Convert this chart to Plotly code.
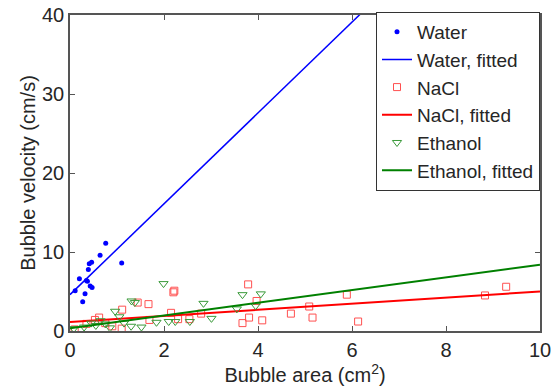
import plotly.graph_objects as go

# ---- data ----
water_x = [0.11, 0.20, 0.27, 0.32, 0.35, 0.37, 0.39, 0.41, 0.46, 0.43, 0.47, 0.64, 0.76, 1.10]
water_y = [5.1, 6.6, 3.7, 4.7, 6.4, 6.3, 7.8, 8.5, 8.7, 5.7, 5.5, 9.6, 11.1, 8.6]

nacl_x = [0.10, 0.35, 0.53, 0.62, 0.75, 0.90, 1.10, 1.11, 1.44, 1.67, 1.69, 2.15, 2.20, 2.22,
          2.30, 2.54, 2.79, 3.67, 3.79, 3.81, 3.97, 4.09, 4.70, 5.09, 5.16, 5.89, 6.13, 8.83, 9.28]
nacl_y = [0.2, 0.9, 1.4, 1.7, 1.0, 0.6, 0.3, 2.7, 3.6, 3.4, 1.4, 2.3, 4.9, 5.1,
          1.5, 1.5, 2.2, 1.0, 5.9, 1.7, 3.8, 1.35, 2.2, 3.1, 1.7, 4.6, 1.2, 4.5, 5.6]

ethanol_x = [0.08, 0.30, 0.45, 0.55, 0.65, 0.75, 0.85, 0.96, 1.05, 1.15, 1.30, 1.31, 1.38, 1.52,
             1.84, 1.99, 2.10, 2.24, 2.55, 2.84, 3.01, 3.55, 3.67, 3.95, 4.06]
ethanol_y = [0.3, 0.5, 1.0, 0.7, 1.3, 0.9, 0.4, 2.5, 1.8, 1.0, 0.6, 3.8, 3.6, 0.5,
             1.1, 6.0, 1.2, 1.2, 1.2, 3.5, 1.6, 2.8, 4.6, 3.2, 4.7]

fit_x = [0, 10]
water_fit = [4.6, 62.1]
nacl_fit = [1.15, 5.0]
ethanol_fit = [0.35, 8.4]

x_ticks = [0, 2, 4, 6, 8, 10]
y_ticks = [0, 10, 20, 30, 40]

BLUE = "#0000ff"
RED = "#ff0000"
GREEN = "#008000"
TXT = "#262626"
FONT = "Liberation Sans, Arial, sans-serif"
FS = 20

fig = go.Figure()
fig.add_trace(go.Scatter(x=water_x, y=water_y, mode="markers", name="Water",
                         marker=dict(symbol="circle", size=5, color=BLUE)))
fig.add_trace(go.Scatter(x=fit_x, y=water_fit, mode="lines", name="Water, fitted",
                         line=dict(color=BLUE, width=1.5)))
fig.add_trace(go.Scatter(x=nacl_x, y=nacl_y, mode="markers", name="NaCl",
                         marker=dict(symbol="square-open", size=7, color="#ff5050",
                                     line=dict(width=1))))
fig.add_trace(go.Scatter(x=fit_x, y=nacl_fit, mode="lines", name="NaCl, fitted",
                         line=dict(color=RED, width=2)))
fig.add_trace(go.Scatter(x=ethanol_x, y=ethanol_y, mode="markers", name="Ethanol",
                         marker=dict(symbol="triangle-down-open", size=8, color="#3a9a3a",
                                     line=dict(width=1))))
fig.add_trace(go.Scatter(x=fit_x, y=ethanol_fit, mode="lines", name="Ethanol, fitted",
                         line=dict(color=GREEN, width=2)))

axis_common = dict(showgrid=False, zeroline=False, showline=True, linecolor="#555555",
                   linewidth=1.5, mirror="ticks", ticks="inside", ticklen=5,
                   tickcolor="#555555", tickfont=dict(family=FONT, size=FS, color=TXT),
                   automargin=False)

fig.update_xaxes(range=[0, 10], tickvals=x_ticks, ticktext=[str(v) for v in x_ticks],
                 title=dict(text="Bubble area (cm<sup>2</sup>)", font=dict(family=FONT, size=FS, color=TXT),
                            standoff=2),
                 **axis_common)
fig.update_yaxes(range=[0, 40], tickvals=y_ticks, ticktext=[str(v) for v in y_ticks],
                 title=dict(text="Bubble velocity (cm/s)", font=dict(family=FONT, size=FS, color=TXT),
                            standoff=1),
                 **axis_common)

fig.update_layout(
    width=558, height=387,
    margin=dict(l=70, r=18, t=15, b=56),
    plot_bgcolor="white", paper_bgcolor="white",
    font=dict(family=FONT, color=TXT),
    legend=dict(x=1, y=1.01, xanchor="right", yanchor="top",
                bgcolor="white", bordercolor="#333333", borderwidth=1,
                font=dict(family=FONT, size=19, color=TXT),
                itemwidth=30),
)

fig.write_html("out.html")
